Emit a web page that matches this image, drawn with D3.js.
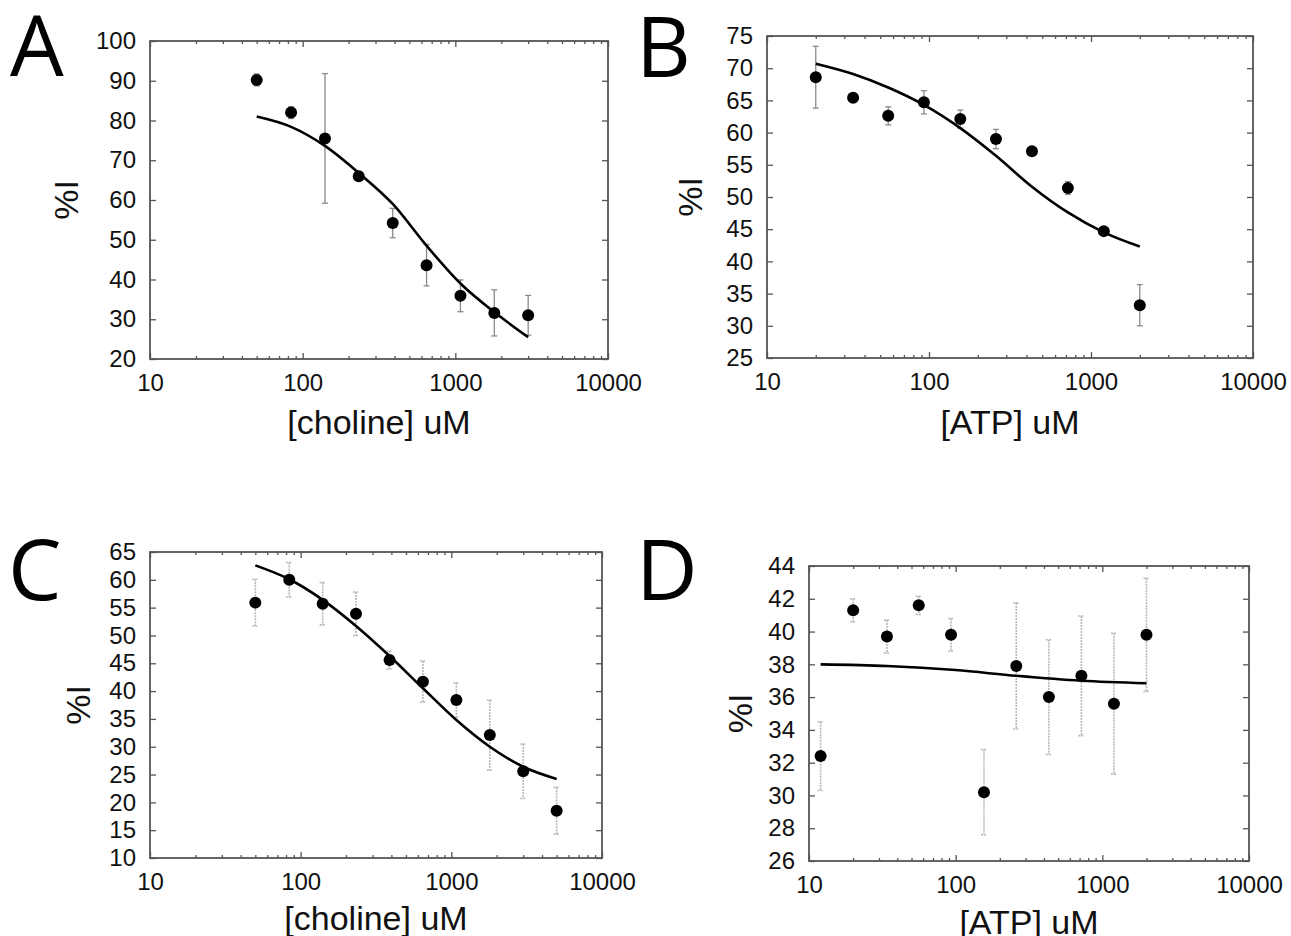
<!DOCTYPE html>
<html>
<head>
<meta charset="utf-8">
<script src="https://cdnjs.cloudflare.com/ajax/libs/d3/7.8.5/d3.min.js"></script>
<style>
  body { margin: 0; background: #fff; }
  svg { display: block; }
</style>
</head>
<body>
<script>
// x values (uM), measured % inhibition, error (+/-)
var concA = [50, 84, 140, 233, 389, 648, 1080, 1800, 3000];
var valA  = [90.2, 82.0, 75.5, 66.0, 54.2, 43.6, 35.9, 31.6, 31.0];
var errA  = [1.5, 1.5, 16.3, 1.0, 3.7, 5.2, 4.0, 5.8, 5.0];
var fitXA = [50, 84, 140, 233, 389, 648, 1080, 1800, 3000];
var fitYA = [81.0, 78.4, 73.6, 66.8, 59.0, 48.5, 39.0, 31.8, 25.5];
var yTicksA = [20, 30, 40, 50, 60, 70, 80, 90, 100];

var concB = [20, 34, 56, 93, 156, 259, 432, 720, 1200, 2000];
var valB  = [68.6, 65.4, 62.6, 64.7, 62.1, 59.0, 57.1, 51.4, 44.7, 33.2];
var errB  = [4.8, 0.5, 1.4, 1.8, 1.4, 1.5, 0.5, 1.0, 0.7, 3.2];
var fitXB = [20, 34, 56, 93, 156, 259, 432, 720, 1200, 2000];
var fitYB = [70.7, 69.1, 67.0, 64.3, 60.7, 56.4, 51.6, 47.6, 44.5, 42.3];
var yTicksB = [25, 30, 35, 40, 45, 50, 55, 60, 65, 70, 75];

var concC = [50, 84, 140, 233, 389, 648, 1080, 1800, 3000, 5000];
var valC  = [55.9, 60.0, 55.7, 53.9, 45.6, 41.7, 38.4, 32.1, 25.6, 18.5];
var errC  = [4.2, 3.1, 3.8, 3.9, 1.6, 3.7, 3.1, 6.3, 4.9, 4.2];
var fitXC = [50, 84, 140, 233, 389, 648, 1080, 1800, 3000, 5000];
var fitYC = [62.6, 60.1, 56.4, 51.7, 46.3, 40.5, 34.8, 30.0, 26.4, 24.2];
var yTicksC = [10, 15, 20, 25, 30, 35, 40, 45, 50, 55, 60, 65];

var concD = [12, 20, 34, 56, 93, 156, 259, 432, 720, 1200, 2000];
var valD  = [32.4, 41.3, 39.7, 41.6, 39.8, 30.2, 37.9, 36.0, 37.3, 35.6, 39.8];
var errD  = [2.1, 0.7, 1.0, 0.55, 1.0, 2.6, 3.85, 3.5, 3.65, 4.3, 3.45];
var fitXD = [12, 34, 100, 259, 720, 2000];
var fitYD = [38.0, 37.9, 37.65, 37.3, 37.0, 36.85];
var yTicksD = [26, 28, 30, 32, 34, 36, 38, 40, 42, 44];

var xTicks = [10, 100, 1000, 10000];

var svg = d3.select("body").append("svg")
    .attr("width", 1291)
    .attr("height", 936);

var panels = [
  {letter: "A", lx: 10, ly: 76, left: 150, right: 608, top: 41, bottom: 359,
   conc: concA, val: valA, err: errA, fx: fitXA, fy: fitYA, yTicks: yTicksA,
   xlab: "[choline] uM", xlabY: 434, ylabX: 66, dotted: false},
  {letter: "B", lx: 636, ly: 77, left: 767, right: 1253, top: 36, bottom: 358,
   conc: concB, val: valB, err: errB, fx: fitXB, fy: fitYB, yTicks: yTicksB,
   xlab: "[ATP] uM", xlabY: 434, ylabX: 690, dotted: false},
  {letter: "C", lx: 8, ly: 600, left: 150, right: 602, top: 552, bottom: 858,
   conc: concC, val: valC, err: errC, fx: fitXC, fy: fitYC, yTicks: yTicksC,
   xlab: "[choline] uM", xlabY: 930, ylabX: 78, dotted: true},
  {letter: "D", lx: 636, ly: 600, left: 809, right: 1249, top: 566, bottom: 861,
   conc: concD, val: valD, err: errD, fx: fitXD, fy: fitYD, yTicks: yTicksD,
   xlab: "[ATP] uM", xlabY: 934, ylabX: 740, dotted: true}
];

var tickFont = "'Liberation Sans', Arial, Helvetica, sans-serif";

panels.forEach(function(p) {
  var x = d3.scaleLog().domain([10, 10000]).range([p.left, p.right]);
  var y = d3.scaleLinear()
      .domain([p.yTicks[0], p.yTicks[p.yTicks.length - 1]])
      .range([p.bottom, p.top]);
  var g = svg.append("g");

  var minor = x.ticks().filter(function(d) { return xTicks.indexOf(d) < 0; });

  // minor ticks, bottom and top
  g.append("g").attr("transform", "translate(0," + p.bottom + ")")
    .call(d3.axisBottom(x).tickValues(minor).tickSize(-3).tickFormat(""));
  g.append("g").attr("transform", "translate(0," + p.top + ")")
    .call(d3.axisTop(x).tickValues(minor).tickSize(-3).tickFormat(""));
  // major ticks
  g.append("g").attr("class", "lab").attr("transform", "translate(0," + p.bottom + ")")
    .call(d3.axisBottom(x).tickValues(xTicks).tickSize(-6).tickPadding(15)
      .tickFormat(d3.format("d")));
  g.append("g").attr("transform", "translate(0," + p.top + ")")
    .call(d3.axisTop(x).tickValues(xTicks).tickSize(-6).tickFormat(""));
  g.append("g").attr("class", "lab").attr("transform", "translate(" + p.left + ",0)")
    .call(d3.axisLeft(y).tickValues(p.yTicks).tickSize(-6).tickPadding(14));
  g.append("g").attr("transform", "translate(" + p.right + ",0)")
    .call(d3.axisRight(y).tickValues(p.yTicks).tickSize(-6).tickFormat(""));

  g.selectAll(".domain").remove();
  g.selectAll(".tick line").attr("stroke", "#555").attr("stroke-width", 1.3);
  g.selectAll(".lab text")
    .attr("font-family", tickFont)
    .attr("font-size", 24)
    .attr("fill", "#111");

  // frame
  g.append("rect")
    .attr("x", p.left).attr("y", p.top)
    .attr("width", p.right - p.left).attr("height", p.bottom - p.top)
    .attr("fill", "none").attr("stroke", "#555").attr("stroke-width", 1.8);

  // error bars
  var eb = g.append("g")
    .attr("stroke", p.dotted ? "#b8b8b8" : "#8a8a8a")
    .attr("stroke-width", p.dotted ? 1.6 : 1.3)
    .attr("stroke-dasharray", p.dotted ? "2,1" : null);
  p.conc.forEach(function(c, i) {
    var cx = x(c), y1 = y(p.val[i] + p.err[i]), y2 = y(p.val[i] - p.err[i]);
    eb.append("line").attr("x1", cx).attr("x2", cx).attr("y1", y1).attr("y2", y2);
    eb.append("line").attr("x1", cx - 3).attr("x2", cx + 3).attr("y1", y1).attr("y2", y1);
    eb.append("line").attr("x1", cx - 3).attr("x2", cx + 3).attr("y1", y2).attr("y2", y2);
  });

  // fitted curve
  var line = d3.line()
    .x(function(d, i) { return x(p.fx[i]); })
    .y(function(d) { return y(d); })
    .curve(d3.curveMonotoneX);
  g.append("path")
    .attr("d", line(p.fy))
    .attr("fill", "none")
    .attr("stroke", "#000")
    .attr("stroke-width", 2.6);

  // points
  g.selectAll("circle.pt")
    .data(p.val)
    .enter()
    .append("circle")
    .attr("class", "pt")
    .attr("cx", function(d, i) { return x(p.conc[i]); })
    .attr("cy", function(d) { return y(d); })
    .attr("r", 6)
    .attr("fill", "#000");

  // axis titles
  g.append("text")
    .attr("x", (p.left + p.right) / 2)
    .attr("y", p.xlabY)
    .attr("text-anchor", "middle")
    .attr("font-family", tickFont)
    .attr("font-size", 34)
    .attr("fill", "#111")
    .text(p.xlab);
  g.append("text")
    .attr("transform", "translate(" + p.ylabX + "," + (p.top + p.bottom) / 2 + ") rotate(-90)")
    .attr("text-anchor", "middle")
    .attr("dy", "0.35em")
    .attr("font-family", tickFont)
    .attr("font-size", 34)
    .attr("fill", "#111")
    .text("%I");

  // panel letter
  g.append("text")
    .attr("x", p.lx)
    .attr("y", p.ly)
    .attr("font-family", "'Open Sans', sans-serif")
    .attr("font-size", 85)
    .attr("fill", "#000")
    .text(p.letter);
});
</script>
</body>
</html>
